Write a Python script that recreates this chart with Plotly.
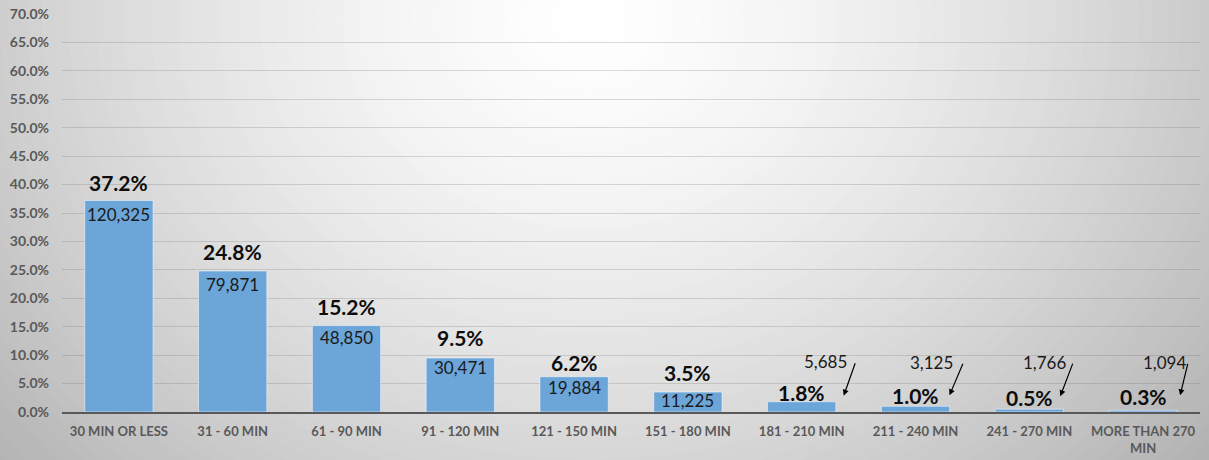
import plotly.graph_objects as go

# ---- data ----
categories = ["30 MIN OR LESS", "31 - 60 MIN", "61 - 90 MIN", "91 - 120 MIN",
              "121 - 150 MIN", "151 - 180 MIN", "181 - 210 MIN", "211 - 240 MIN",
              "241 - 270 MIN", "MORE THAN 270<br>MIN"]
pct_values = [37.2, 24.8, 15.2, 9.5, 6.2, 3.5, 1.8, 1.0, 0.5, 0.3]
counts = [120325, 79871, 48850, 30471, 19884, 11225, 5685, 3125, 1766, 1094]
y_ticks = [0, 5, 10, 15, 20, 25, 30, 35, 40, 45, 50, 55, 60, 65, 70]

# ---- style ----
FONT = "Lato"
BAR_COLOR = "#6CA5D8"
AXIS_GRAY = "#595959"
W, H = 1209, 460
ML, MR, MT, MB = 62, 9, 14, 48
PW, PH = W - ML - MR, H - MT - MB

pct_lift = [18, 19, 19, 20, 14, 20, 9, 11, 12, 14]          # label centre above bar top (px)
count_drop = [14, 14, 12, 10, 11, 8]                         # count label centre below bar top (px)
callout = {  # index: (tip dx, tip dy, tail dx, tail dy, text dx, text dy) relative to bar top centre
    6: (42, 6, 12, -34, 24, 40),
    7: (34, 11, 14, -33, 16, 44),
    8: (31, 13, 13, -34, 15, 47),
    9: (37, 15, 8, -33, 21, 48),
}

def px2paper_x(px):
    return (px - ML) / PW

def px2paper_y(py):
    return (H - MB - py) / PH

# radial gradient background built from stacked ellipses
shapes = []
cx, cy, rx0, ry0 = 590, 20, 640, 540
N = 70
dmax = 1.5
for i in range(N):
    d = dmax * (1 - i / N)
    v = 255 - 54 * d ** 1.5
    v = int(max(175, min(255, v)))
    shapes.append(dict(
        type="circle", xref="paper", yref="paper", layer="below",
        x0=px2paper_x(cx - rx0 * d), x1=px2paper_x(cx + rx0 * d),
        y0=px2paper_y(cy + ry0 * d), y1=px2paper_y(cy - ry0 * d),
        fillcolor=f"rgb({v},{v},{v})", line=dict(width=0),
    ))

fig = go.Figure()
fig.add_trace(go.Bar(
    x=categories, y=pct_values,
    marker=dict(color=BAR_COLOR, line=dict(color="rgba(255,255,255,0.5)", width=1)),
    width=0.6, hoverinfo="skip",
))

annotations = []
for i, (c, p, n) in enumerate(zip(categories, pct_values, counts)):
    annotations.append(dict(
        x=c, y=p, xref="x", yref="y", text=f"<b>{p:.1f}%</b>", showarrow=False,
        yanchor="middle", xanchor="center", yshift=pct_lift[i],
        font=dict(family=FONT, size=21, color="#0d0d0d"),
    ))
    if i in callout:
        tdx, tdy, adx, ady, xdx, xdy = callout[i]
        annotations.append(dict(
            x=c, y=p, xref="x", yref="y", text="", showarrow=True,
            xshift=tdx, yshift=tdy, ax=adx, ay=ady,
            arrowhead=2, arrowsize=1, arrowwidth=1.2, arrowcolor="#000000",
        ))
        annotations.append(dict(
            x=c, y=p, xref="x", yref="y", text=f"{n:,}", showarrow=False,
            xshift=xdx, yshift=xdy, xanchor="center", yanchor="middle",
            font=dict(family=FONT, size=17, color="#1a1a1a"),
        ))
    else:
        annotations.append(dict(
            x=c, y=p, xref="x", yref="y", text=f"{n:,}", showarrow=False,
            yshift=-count_drop[i], xanchor="center", yanchor="middle",
            font=dict(family=FONT, size=17, color="#1a1a1a"),
        ))

fig.update_layout(
    width=W, height=H,
    margin=dict(l=ML, r=MR, t=MT, b=MB, pad=0, autoexpand=False),
    paper_bgcolor="rgb(180,180,180)",
    plot_bgcolor="rgba(0,0,0,0)",
    shapes=shapes,
    annotations=annotations,
    showlegend=False,
    bargap=0.4,
)
fig.update_xaxes(
    type="category", showgrid=False, showline=True, linecolor=AXIS_GRAY, linewidth=2,
    ticks="", ticklabelstandoff=6, automargin=False,
    tickfont=dict(family=FONT, size=13, color=AXIS_GRAY, weight="bold"),
    fixedrange=True,
)
fig.update_yaxes(
    range=[0, 70], tickvals=y_ticks, ticktext=[f"{t:.1f}%" for t in y_ticks],
    showgrid=True, gridcolor="rgba(110,110,110,0.25)", gridwidth=1.3,
    zeroline=False, showline=False, ticks="", ticklabelstandoff=12, automargin=False,
    tickfont=dict(family=FONT, size=14, color=AXIS_GRAY, weight="bold"),
    fixedrange=True,
)

fig.write_html(
    "out.html",
    config={"displayModeBar": False},
    post_script="document.body.style.margin='0px';document.body.style.overflow='hidden';",
)
